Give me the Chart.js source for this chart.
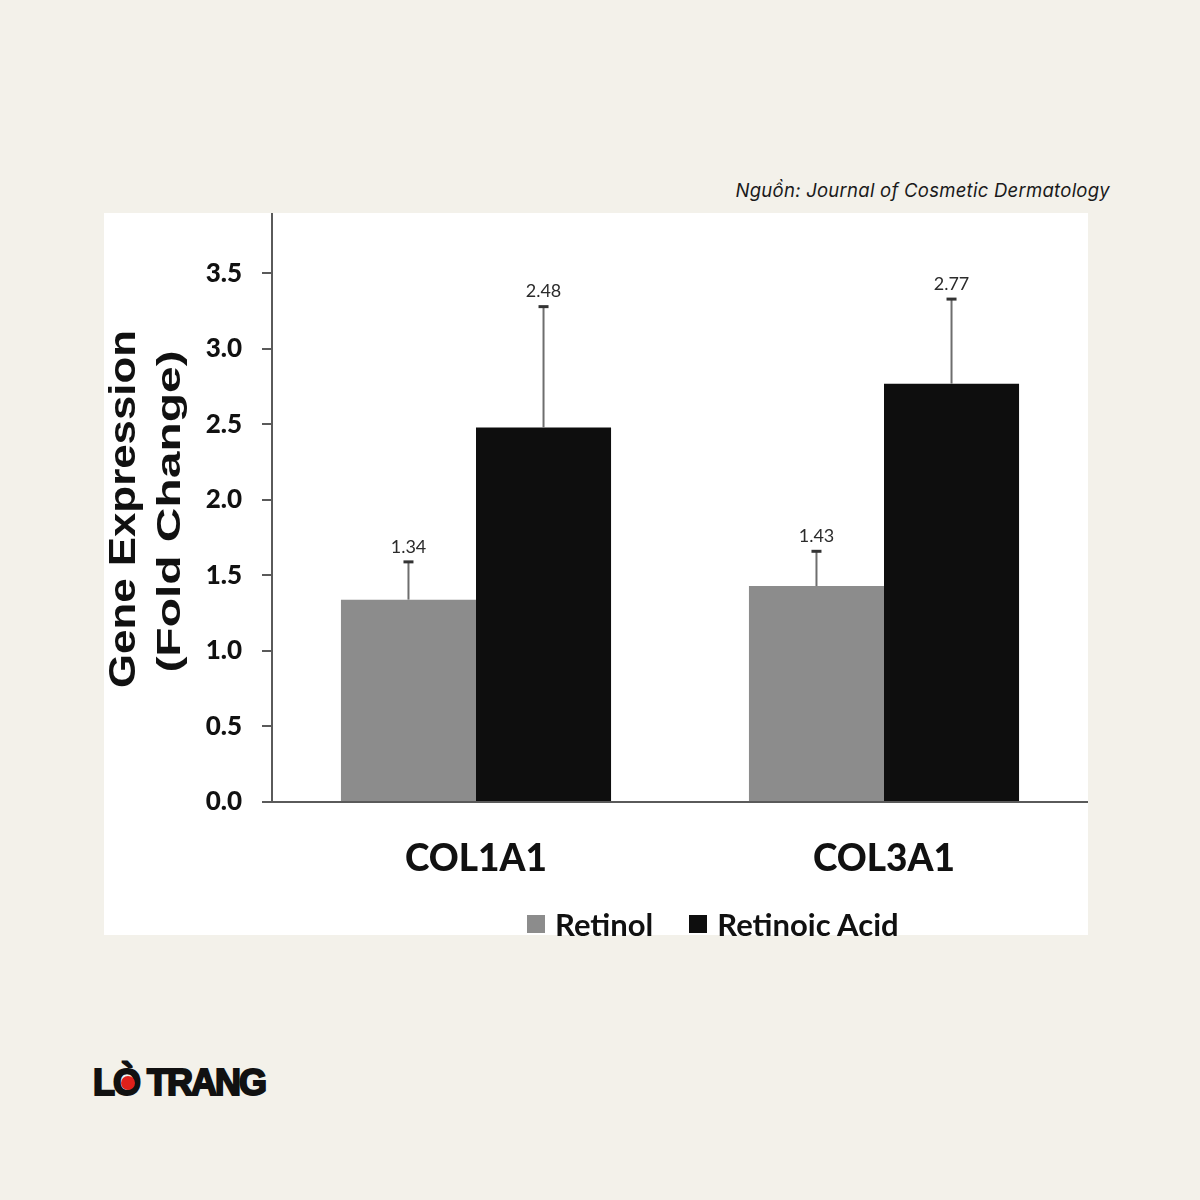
<!DOCTYPE html>
<html>
<head>
<meta charset="utf-8">
<script src="https://cdn.jsdelivr.net/npm/chart.js@4.4.1/dist/chart.umd.min.js"></script>
<style>
  html, body { margin:0; padding:0; }
  body { width:1200px; height:1200px; background:#f3f1ea; position:relative; overflow:hidden; font-family:Lato, sans-serif; }
  #panel { position:absolute; left:104px; top:213px; width:984px; height:722px; background:#ffffff; }
  #c { position:absolute; left:104px; top:213px; }
  #source { position:absolute; right:90px; top:179px; font-family:Inter, "Open Sans", sans-serif; font-style:italic; font-size:18.5px; color:#1a1a1a; }
  .ytitle { position:absolute; font-family:"Liberation Sans", Arial, sans-serif; font-weight:bold; color:#111; white-space:nowrap; transform-origin:center center; }
  #legend { position:absolute; top:905px; left:527px; display:flex; align-items:center; font-family:Lato, sans-serif; font-weight:bold; font-size:31px; color:#111; }
  #legend .item { display:flex; align-items:center; margin-right:36px; }
  #legend .box { width:18px; height:18px; margin-right:10px; }
  #logo { position:absolute; left:93px; top:1062px; font-family:"Liberation Sans", Arial, sans-serif; font-weight:900; font-size:36px; letter-spacing:-2px; color:#111; white-space:nowrap; -webkit-text-stroke:2px #111; }
  #logo .o { position:relative; display:inline-block; }
  #logo .dot { position:absolute; left:8px; top:14px; width:14px; height:14px; border-radius:50%; background:#e0201b; }
</style>
</head>
<body>
<div id="panel"></div>
<canvas id="c" width="984" height="722"></canvas>
<div id="source">Nguồn: Journal of Cosmetic Dermatology</div>
<div class="ytitle" id="yt1">Gene Expression</div>
<div class="ytitle" id="yt2">(Fold Change)</div>
<div id="legend"></div>
<div id="logo">L<span class="o">Ò<span class="dot"></span></span> TRANG</div>
<script>
const categories = ["COL1A1", "COL3A1"];
const seriesNames = ["Retinol", "Retinoic Acid"];
const retinolValues = [1.34, 1.43];
const retinoicAcidValues = [2.48, 2.77];
const retinolErrors = [0.25, 0.23];
const retinoicAcidErrors = [0.80, 0.56];
const seriesColors = ["#8c8c8c", "#0e0e0e"];
const yTickStep = 0.5;
const yMax = 3.9;

// Y title placement (rotated HTML text)
function placeTitle(id, fontSize, cx, cy, targetLen) {
  const el = document.getElementById(id);
  el.style.fontSize = fontSize + "px";
  const w = el.offsetWidth, h = el.offsetHeight;
  const sx = targetLen / w;
  el.style.left = (cx - w / 2) + "px";
  el.style.top = (cy - h / 2) + "px";
  el.style.transform = "rotate(-90deg) scaleX(" + sx.toFixed(3) + ")";
}
placeTitle("yt1", 37, 123, 509, 358);
placeTitle("yt2", 34, 168, 511, 323);

// Source line: fit to reference width
(function () {
  const s = document.getElementById("source");
  const target = 375;
  const w = s.offsetWidth;
  s.style.letterSpacing = ((target - w) / s.textContent.length).toFixed(2) + "px";
})();

// HTML legend
const legendEl = document.getElementById("legend");
seriesNames.forEach((n, i) => {
  const it = document.createElement("div");
  it.className = "item";
  const b = document.createElement("div");
  b.className = "box";
  b.style.background = seriesColors[i];
  const t = document.createElement("span");
  t.textContent = n;
  it.appendChild(b); it.appendChild(t);
  legendEl.appendChild(it);
});

const errorBarPlugin = {
  id: "errorBars",
  afterDatasetsDraw(chart) {
    const ctx = chart.ctx;
    const y = chart.scales.y;
    chart.data.datasets.forEach((ds, di) => {
      const meta = chart.getDatasetMeta(di);
      meta.data.forEach((bar, i) => {
        const v = ds.data[i];
        const top = y.getPixelForValue(v + ds.errors[i]);
        const base = y.getPixelForValue(v);
        ctx.save();
        ctx.strokeStyle = "#6e6e6e";
        ctx.lineWidth = 2;
        ctx.beginPath();
        ctx.moveTo(bar.x, base);
        ctx.lineTo(bar.x, top);
        ctx.stroke();
        ctx.strokeStyle = "#333333";
        ctx.lineWidth = 3;
        ctx.beginPath();
        ctx.moveTo(bar.x - 5, top);
        ctx.lineTo(bar.x + 5, top);
        ctx.stroke();
        ctx.fillStyle = "#2b2b2b";
        ctx.font = "18px Lato, 'Open Sans', sans-serif";
        ctx.textAlign = "center";
        ctx.textBaseline = "bottom";
        ctx.fillText(v.toFixed(2), bar.x, top - 6);
        ctx.restore();
      });
    });
  }
};

new Chart(document.getElementById("c"), {
  type: "bar",
  data: {
    labels: categories,
    datasets: [
      { label: seriesNames[0], data: retinolValues, errors: retinolErrors, backgroundColor: seriesColors[0], borderWidth: 0 },
      { label: seriesNames[1], data: retinoicAcidValues, errors: retinoicAcidErrors, backgroundColor: seriesColors[1], borderWidth: 0 }
    ]
  },
  options: {
    responsive: false,
    animation: false,
    devicePixelRatio: 1,
    layout: { padding: 0 },
    plugins: { legend: { display: false }, tooltip: { enabled: false } },
    datasets: { bar: { categoryPercentage: 0.662, barPercentage: 1.0 } },
    scales: {
      x: {
        grid: { display: false, drawTicks: false },
        border: { display: true, color: "#5a5a5a", width: 2 },
        ticks: { font: { family: "Lato", weight: "900", size: 37 }, color: "#111", padding: 35 },
        afterFit(s) { s.height = 133; s.paddingLeft = 0; s.paddingRight = 0; }
      },
      y: {
        min: 0, max: yMax,
        grid: { display: true, drawOnChartArea: false, drawTicks: true, tickLength: 10, color: "#5a5a5a", lineWidth: 2 },
        border: { display: true, color: "#5a5a5a", width: 2 },
        ticks: { stepSize: yTickStep, font: { family: "Lato", weight: "900", size: 26 }, color: "#111", padding: 20,
                 callback: v => Number(v).toFixed(1) },
        afterBuildTicks(s) { s.ticks = s.ticks.filter(t => Math.abs(t.value / yTickStep - Math.round(t.value / yTickStep)) < 1e-6); },
        afterFit(s) { s.width = 168; s.paddingTop = 0; s.paddingBottom = 0; }
      }
    }
  },
  plugins: [errorBarPlugin]
});
</script>
</body>
</html>
